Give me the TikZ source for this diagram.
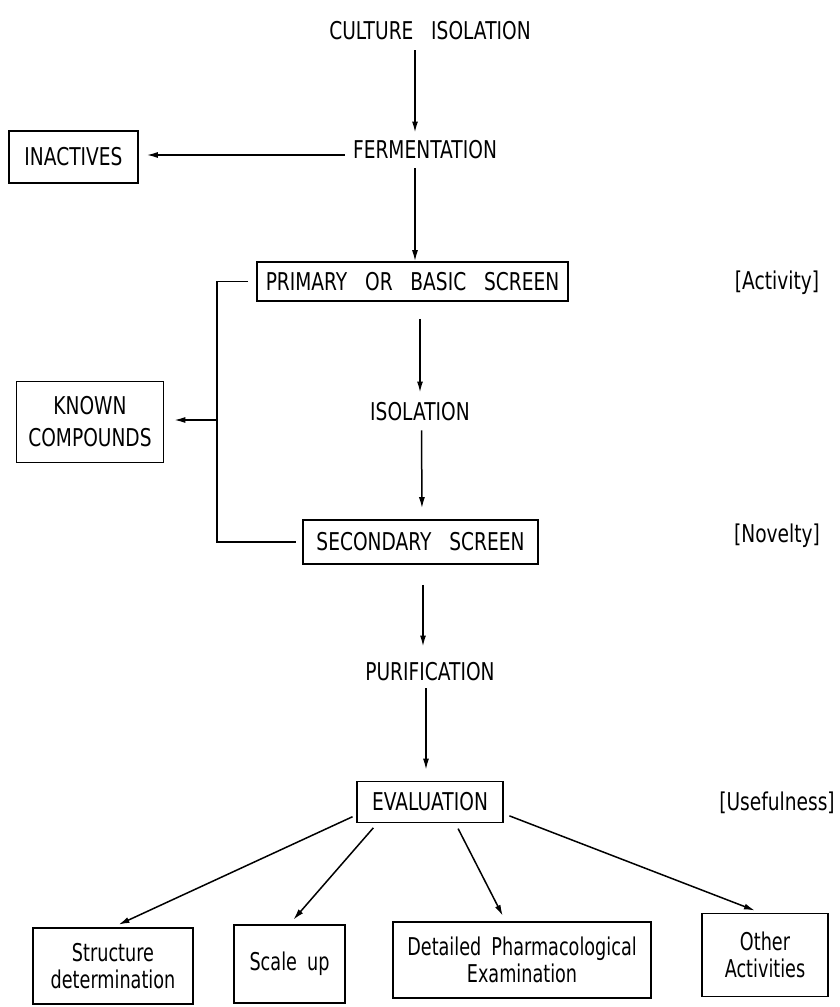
\documentclass[tikz,border=0pt]{standalone}
\usepackage{fontspec}
\setmainfont{DejaVu Sans}[FakeStretch=0.76,WordSpace=3]
\newfontfamily\lcfont{DejaVu Sans}[FakeStretch=0.72,WordSpace=1.8]
\usetikzlibrary{arrows.meta}
\begin{document}
\begin{tikzpicture}[x=1pt,y=-1pt,
  every node/.style={font=\fontsize{24.5}{27}\selectfont, inner sep=0pt, align=center},
  lbl/.style={},
  boxnode/.style={draw, line width=1.6pt},
  lcbox/.style={boxnode, font=\lcfont\fontsize{24.5}{27}\selectfont},
  conn/.style={line width=1.5pt},
  arr/.style={conn, -{Latex[length=11pt,width=6pt]}}
]
\useasboundingbox (0,0) rectangle (840,1007);
% text labels
\node[lbl] (ci) at (430,31) {CULTURE ISOLATION};
\node[lbl] (fe) at (425,150) {FERMENTATION};
\node[lbl] (iso) at (420,412) {ISOLATION};
\node[lbl] (pur) at (430,672) {PURIFICATION};
\node[lbl] (act) at (777,283) {[Activity]};
\node[lbl] (nov) at (777,536) {[Novelty]};
\node[lbl] (use) at (777,803) {[Usefulness]};
% boxes
\node[boxnode, minimum width=129, minimum height=52] (ina) at (73.5,157) {INACTIVES};
\node[boxnode, minimum width=311, minimum height=39] (pb) at (412.5,281.5) {PRIMARY OR BASIC SCREEN};
\node[boxnode, minimum width=147, minimum height=81, font=\fontsize{24.5}{32}\selectfont] (kc) at (90,422) {KNOWN\\COMPOUNDS};
\node[boxnode, minimum width=235, minimum height=44] (ss) at (420.5,542) {SECONDARY SCREEN};
\node[boxnode, minimum width=146, minimum height=41] (ev) at (430,802) {EVALUATION};
\node[lcbox, minimum width=160, minimum height=76] (sd) at (113,966) {Structure\\determination};
\node[lcbox, minimum width=111, minimum height=78] (su) at (289.5,964) {Scale up};
\node[lcbox, minimum width=258, minimum height=76] (dp) at (522,960) {Detailed Pharmacological\\Examination};
\node[lcbox, minimum width=126, minimum height=83] (oa) at (765,955) {Other\\Activities};
% main flow
\draw[arr, shorten <=10pt, shorten >=8pt] ([xshift=-15pt]ci.south) -- ([xshift=-10pt]fe.north);
\draw[arr, shorten <=8pt, shorten >=8pt] ([yshift=-5pt]fe.west) -- ([yshift=-5pt]fe.west -| ina.east);
\draw[arr, shorten <=9pt, shorten >=0pt] ([xshift=-10pt]fe.south) -- ([xshift=2.5pt]pb.north);
\draw[arr, shorten <=17pt, shorten >=10pt] ([xshift=7.5pt]pb.south) -- (iso.north);
\draw[arr, shorten <=9pt, shorten >=11pt] ([xshift=1.5pt]iso.south) -- ([xshift=1.5pt]ss.north);
\draw[arr, shorten <=20pt, shorten >=16pt] ([xshift=2.5pt]ss.south) -- ([xshift=-7pt]pur.north);
\draw[arr, shorten <=7pt, shorten >=11pt] ([xshift=-4pt]pur.south) -- ([xshift=-4pt]ev.north);
% bracket to known compounds
\coordinate (bt) at (217,283);
\coordinate (bm) at (217,420);
\draw[conn] ([xshift=-8pt]pb.west) -- (pb.west -| bt) -- (ss.west -| bt) -- ([xshift=-6pt]ss.west);
\draw[arr, shorten >=10pt] (bm) -- (bm -| kc.east);
% fan from evaluation
\draw[arr, shorten <=4pt, shorten >=6pt] (ev.190) -- (sd.north);
\draw[arr, shorten <=6pt, shorten >=6pt] (ev.202) -- (su.north);
\draw[arr, shorten <=6pt, shorten >=6pt] (ev.320) -- (dp.113);
\draw[arr, shorten <=6pt, shorten >=6pt] (ev.351) -- (oa.96);
\end{tikzpicture}
\end{document}
